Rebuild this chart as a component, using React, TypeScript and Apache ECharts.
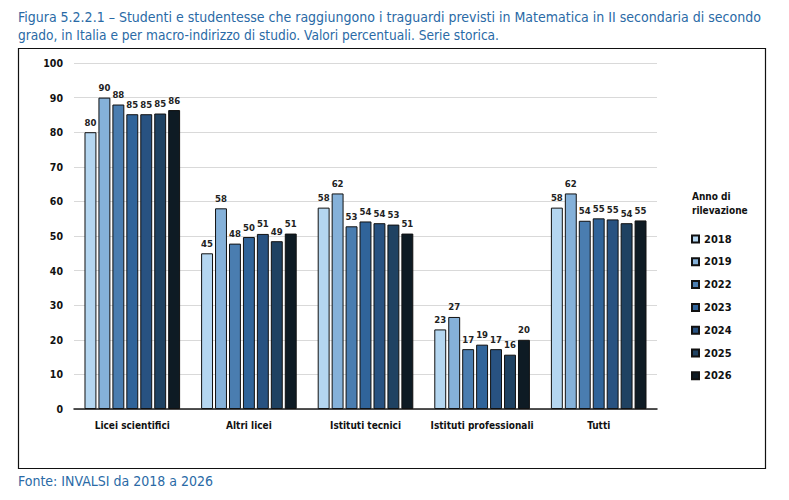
import React, { useEffect, useRef } from "react";
import * as echarts from "echarts";

const categories = ["Licei scientifici", "Altri licei", "Istituti tecnici", "Istituti professionali", "Tutti"];
const years = ["2018", "2019", "2022", "2023", "2024", "2025", "2026"];
const colors = ["#b4d6f0", "#85b1d9", "#4a7db0", "#30649a", "#285281", "#1f4262", "#0e1b24"];

const v2018 = [80.0, 45.0, 58.2, 23.0, 58.2];
const v2019 = [90.0, 58.0, 62.3, 26.6, 62.3];
const v2022 = [88.0, 47.8, 52.8, 17.3, 54.4];
const v2023 = [85.2, 49.7, 54.2, 18.6, 55.1];
const v2024 = [85.2, 50.6, 53.7, 17.3, 54.8];
const v2025 = [85.4, 48.5, 53.3, 15.7, 53.7];
const v2026 = [86.4, 50.7, 50.7, 20.0, 54.5];
const seriesValues = [v2018, v2019, v2022, v2023, v2024, v2025, v2026];

const yTicks = { min: 0, max: 100, interval: 10 };

const titleLine1 = "Figura 5.2.2.1 \u2013 Studenti e studentesse che raggiungono i traguardi previsti in Matematica in II secondaria di secondo";
const titleLine2 = "grado, in Italia e per macro-indirizzo di studio. Valori percentuali. Serie storica.";
const sourceText = "Fonte: INVALSI da 2018 a 2026";
const legendTitle = ["Anno di", "rilevazione"];

const cond = "'DejaVu Sans Condensed', 'Liberation Sans Narrow', sans-serif";
const blue = "#2a6aa6";

export default function App() {
  const ref = useRef<HTMLDivElement>(null);
  useEffect(() => {
    if (!ref.current) return;
    const chart = echarts.init(ref.current, undefined, { renderer: "svg" });
    chart.setOption({
      animation: false,
      backgroundColor: "#ffffff",
      grid: { left: 74, right: 132, top: 63, bottom: 91, containLabel: false },
      xAxis: {
        type: "category",
        data: categories,
        axisLine: { show: true, lineStyle: { color: "#1a1a1a", width: 1.5 } },
        axisTick: { show: false },
        axisLabel: {
          interval: 0,
          fontFamily: cond,
          fontWeight: "bold",
          fontSize: 10,
          color: "#111",
          margin: 11,
        },
      },
      yAxis: {
        type: "value",
        min: yTicks.min,
        max: yTicks.max,
        interval: yTicks.interval,
        axisLine: { show: false },
        axisTick: { show: false },
        splitLine: { lineStyle: { color: "#d9d9d9", width: 1 } },
        axisLabel: {
          fontFamily: cond,
          fontWeight: "bold",
          fontSize: 10.5,
          color: "#111",
          margin: 11,
        },
      },
      legend: {
        orient: "vertical",
        left: 691,
        top: 233,
        padding: 0,
        itemWidth: 7,
        itemHeight: 7,
        itemGap: 10.8,
        icon: "rect",
        textStyle: {
          fontFamily: cond,
          fontWeight: "bold",
          fontSize: 11,
          color: "#111",
          lineHeight: 12,
        },
        data: years,
      },
      series: years.map((y, i) => ({
        name: y,
        type: "bar",
        data: seriesValues[i],
        barGap: "17%",
        barCategoryGap: "18%",
        itemStyle: { color: colors[i], borderColor: "#111", borderWidth: 1 },
        label: {
          show: true,
          position: "top",
          distance: 5,
          fontFamily: cond,
          fontWeight: "bold",
          fontSize: 9.5,
          color: "#222",
          formatter: (p: any) => String(Math.round(p.value)),
        },
      })),
      graphic: [
        {
          type: "rect",
          shape: { x: 18.5, y: 48.5, width: 747, height: 420 },
          style: { fill: "none", stroke: "#111", lineWidth: 1.2 },
          silent: true,
        },
        {
          type: "text",
          x: 18,
          y: 10,
          style: { text: titleLine1, fontFamily: cond, fontSize: 14, fill: blue },
        },
        {
          type: "text",
          x: 18,
          y: 28,
          style: { text: titleLine2, fontFamily: cond, fontSize: 13.6, fill: blue },
        },
        {
          type: "text",
          x: 18,
          y: 474,
          style: { text: sourceText, fontFamily: cond, fontSize: 14, fill: blue },
        },
        {
          type: "text",
          x: 692,
          y: 191,
          style: { text: legendTitle[0], fontFamily: cond, fontWeight: "bold", fontSize: 10, fill: "#111" },
        },
        {
          type: "text",
          x: 692,
          y: 205,
          style: { text: legendTitle[1], fontFamily: cond, fontWeight: "bold", fontSize: 10, fill: "#111" },
        },
      ],
    });
    return () => chart.dispose();
  }, []);
  return (
    <div
      ref={ref}
      style={{ position: "fixed", left: 0, top: 0, width: 789, height: 500 }}
    />
  );
}
